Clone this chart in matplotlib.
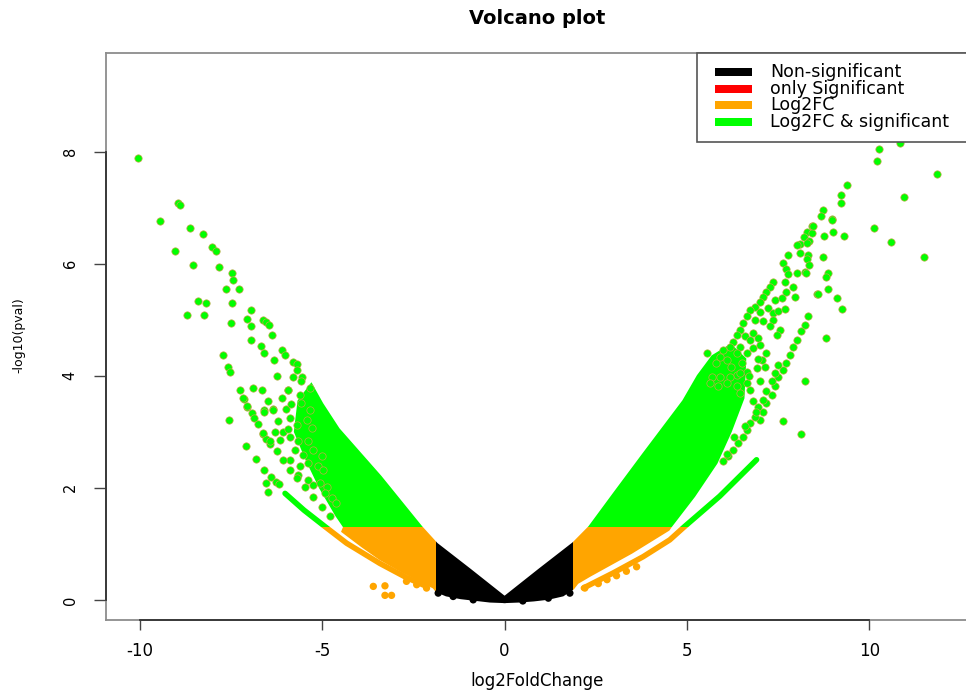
import matplotlib
matplotlib.use("Agg")
import matplotlib.pyplot as plt
import numpy as np
from matplotlib.patches import Rectangle

# ---------------------------------------------------------------------------
# Data
# ---------------------------------------------------------------------------

FC_CUT = 1.87      # |log2FC| threshold
P_CUT = 1.30       # -log10(0.05)

# dense part of the cloud, left and right arms (outline of the solid area)
left_cloud_x = [0.0, -0.95, -1.86, -2.28, -3.40, -4.55, -5.00, -5.30,
                -5.65, -5.75, -5.43, -5.06, -4.61, -4.40, -4.45, -3.90, -3.42,
                -2.80, -2.28, -1.95, -1.86, -1.60, -1.20, -0.80, -0.40, 0.0]
left_cloud_y = [0.05, 0.54, 1.00, 1.30, 2.20, 3.05, 3.50, 3.85,
                3.55, 3.00, 2.50, 2.00, 1.50, 1.30, 1.22, 0.95, 0.73,
                0.50, 0.33, 0.22, 0.15, 0.08, 0.03, 0.00, -0.03, -0.04]

right_cloud_x = [0.0, 0.95, 1.88, 2.32, 3.00, 3.80, 4.90, 5.30, 5.70, 6.20,
                 6.60, 6.55, 6.20, 5.81, 5.20, 4.55, 4.50, 3.48, 2.34, 2.00,
                 1.88, 1.60, 1.20, 0.80, 0.40, 0.0]
right_cloud_y = [0.05, 0.54, 1.01, 1.30, 1.90, 2.60, 3.55, 4.00, 4.35, 4.55,
                 4.30, 3.60, 3.00, 2.44, 1.85, 1.30, 1.25, 0.84, 0.43, 0.30,
                 0.20, 0.08, 0.02, -0.01, -0.03, -0.04]

# outermost thin strands
left_strand_x = [-6.02, -5.50, -4.93, -4.33, -3.42, -2.70, -2.14]
left_strand_y = [1.90, 1.60, 1.31, 1.01, 0.65, 0.40, 0.24]
right_strand_x = [2.16, 2.98, 3.80, 4.53, 4.94, 5.90, 6.91]
right_strand_y = [0.21, 0.48, 0.77, 1.07, 1.31, 1.85, 2.50]

# single genes outside the solid area
gene_x = [
    -10.05, -8.95, -8.89, -9.45, -8.63, -8.26, -8.03, -7.92, -9.04, -8.54,
    -7.82, -7.47, -7.44, -7.65, -7.29, -8.42, -8.20, -7.47, -8.72, -8.24,
    -6.96, -7.07, -6.96, -7.51, -6.62, -6.53, -6.45, -6.37, -6.96, -6.69,
    -6.60, -6.09, -6.02, -7.73, -6.32, -5.81, -5.70, -5.69, -7.58, -7.53,
    -6.25, -5.81, -5.55, -5.57, -7.26, -6.91, -6.64, -5.95, -7.15, -6.48,
    -7.05, -6.94, -6.87, -6.59, -6.36, -7.56, -6.77, -6.62, -6.53, -6.44,
    -7.09, -6.83, -6.59, -6.41, -6.28, -6.53, -6.48, -6.19,
    -7.17, -7.07, -6.34, -6.60, -5.93, -5.61, -5.34, -5.57, -5.34, -5.89,
    -5.70, -5.43, -5.29, -6.07, -5.89, -5.66, -5.39, -5.75, -5.52, -5.25,
    -5.02, -5.89, -5.61, -5.39, -5.11, -4.97, -5.66, -5.39, -5.25, -5.06,
    -4.88, -4.93, -4.74, -4.61,
    -6.62, -6.44, -6.25, -6.07, -5.89, -5.70, -5.48, -5.25, -5.02, -4.79,
    -6.20, -6.00, -6.15, -6.30, -5.95, -6.10, -5.85,
    -3.60, -3.28, -3.28, -3.10, -2.14, -2.41, -2.69,
    -1.41, -0.86, 1.20, 1.79, -1.82, 0.50,
    2.20, 2.57, 2.81, 3.07, 3.34, 3.62,
    10.27, 10.22, 10.84, 11.87, 9.40, 9.22, 9.22, 10.95, 8.74, 8.67,
    8.98, 8.43, 8.28, 8.42, 8.21, 8.35, 8.76, 9.01, 9.31, 10.13,
    10.61, 11.50, 8.10, 8.10, 8.32, 8.28, 8.35, 8.72, 8.25, 8.87,
    8.81, 8.87, 8.58, 9.12, 9.24, 8.81, 8.23, 7.64, 8.12,
    8.45, 8.97, 8.01, 8.28, 7.78, 7.64, 7.71, 7.78, 8.01, 8.26,
    7.37, 7.27, 7.69, 7.91, 7.73, 7.96, 7.18, 7.09, 7.41, 7.60,
    8.60, 7.00, 6.86, 6.73, 7.00, 7.23, 7.37, 7.50, 7.69, 6.64,
    6.86, 6.54, 7.09, 7.37, 7.27, 7.55, 7.46, 6.45, 6.36, 6.59,
    6.82, 6.73, 6.95, 7.00, 6.27, 6.18, 6.45, 6.36, 6.64, 6.82,
    7.18, 7.05, 5.99, 5.90, 6.09, 5.81, 6.22, 6.50, 6.64, 6.91,
    6.36, 6.18, 5.90, 5.68, 5.63, 5.86, 6.09, 6.36, 6.64, 6.73,
    6.45, 5.54,
    8.32, 8.23, 8.14, 8.01, 7.91, 7.82, 7.73, 7.64, 7.50, 7.41,
    7.32, 7.18, 7.09, 7.00,
    7.50, 7.41, 7.32, 7.18, 7.09, 6.95, 6.86, 6.73, 6.64, 6.54,
    6.41, 6.27, 6.13, 5.99,
    7.00, 6.80, 6.95, 6.70, 6.45, 7.15, 6.90, 6.60, 6.30, 6.10,
]
gene_y = [
    7.88, 7.08, 7.04, 6.77, 6.63, 6.53, 6.30, 6.22, 6.23, 5.98,
    5.94, 5.84, 5.71, 5.54, 5.54, 5.34, 5.29, 5.30, 5.09, 5.09,
    5.17, 5.01, 4.89, 4.94, 5.00, 4.95, 4.90, 4.73, 4.63, 4.53,
    4.41, 4.46, 4.37, 4.37, 4.28, 4.25, 4.21, 4.10, 4.15, 4.06,
    4.00, 3.97, 3.98, 3.90, 3.75, 3.78, 3.75, 3.75, 3.59, 3.54,
    3.44, 3.34, 3.25, 3.38, 3.40, 3.21, 3.14, 2.96, 2.87, 2.78,
    2.74, 2.51, 2.32, 2.19, 2.11, 2.08, 1.93, 2.06,
    3.60, 3.46, 3.39, 3.36, 3.75, 3.66, 3.78, 3.51, 3.39, 3.24,
    3.12, 3.21, 3.06, 3.00, 2.91, 2.83, 2.83, 2.68, 2.59, 2.68,
    2.56, 2.50, 2.38, 2.44, 2.38, 2.32, 2.23, 2.14, 2.05, 2.08,
    2.02, 1.90, 1.81, 1.73,
    2.97, 2.83, 2.65, 2.50, 2.32, 2.17, 2.02, 1.84, 1.66, 1.49,
    3.20, 3.40, 2.85, 3.00, 3.05, 3.60, 3.50,
    0.24, 0.25, 0.08, 0.08, 0.21, 0.27, 0.33,
    0.06, 0.00, 0.03, 0.12, 0.12, -0.02,
    0.21, 0.29, 0.36, 0.43, 0.51, 0.59,
    8.04, 7.84, 8.16, 7.60, 7.41, 7.23, 7.08, 7.19, 6.96, 6.85,
    6.80, 6.67, 6.57, 6.54, 6.47, 6.41, 6.50, 6.56, 6.50, 6.63,
    6.39, 6.12, 6.35, 6.19, 6.16, 6.08, 5.98, 6.12, 5.85, 5.84,
    5.77, 5.54, 5.46, 5.38, 5.19, 4.68, 3.91, 3.19, 2.96,
    6.67, 6.78, 6.33, 6.37, 6.16, 6.01, 5.90, 5.82, 5.84, 5.84,
    5.68, 5.59, 5.68, 5.59, 5.50, 5.40, 5.50, 5.41, 5.35, 5.38,
    5.46, 5.32, 5.23, 5.17, 5.14, 5.20, 5.12, 5.16, 5.19, 5.06,
    5.00, 4.94, 4.97, 5.00, 4.88, 4.82, 4.73, 4.82, 4.73, 4.70,
    4.76, 4.64, 4.67, 4.55, 4.61, 4.52, 4.52, 4.40, 4.40, 4.49,
    4.40, 4.28, 4.46, 4.34, 4.28, 4.22, 4.16, 4.22, 4.07, 4.13,
    4.01, 3.98, 3.98, 3.98, 3.87, 3.81, 3.87, 3.81, 3.87, 3.75,
    3.69, 4.40,
    5.06, 4.91, 4.79, 4.64, 4.52, 4.37, 4.22, 4.10, 3.98, 3.81,
    3.66, 3.51, 3.36, 3.21,
    4.19, 4.05, 3.90, 3.72, 3.57, 3.45, 3.27, 3.15, 3.03, 2.91,
    2.80, 2.68, 2.56, 2.47,
    3.90, 3.55, 4.30, 4.00, 4.05, 4.15, 3.35, 3.10, 2.90, 2.60,
]

x_ticks = [-10, -5, 0, 5, 10]
y_ticks = [0, 2, 4, 6, 8]

categories = ["Non-significant", "only Significant", "Log2FC", "Log2FC & significant"]
cat_colors = ["black", "red", "orange", "#00ff00"]

# ---------------------------------------------------------------------------
# Plot
# ---------------------------------------------------------------------------

W, H = 966, 691
fig = plt.figure(figsize=(W / 100, H / 100), dpi=100)
ax = fig.add_axes([106 / W, 1 - 620 / H, 869 / W, 567 / H])
ax.set_xlim(-10.93, 12.90)
ax.set_ylim(-0.36, 9.76)

big = 50
# (color, [(x0, y0, x1, y1), ...]) regions of each class
regions = [
    ("black", [(-FC_CUT, -big, FC_CUT, big)]),
    ("orange", [(-big, -big, -FC_CUT, P_CUT), (FC_CUT, -big, big, P_CUT)]),
    ("#00ff00", [(-big, P_CUT, -FC_CUT, big), (FC_CUT, P_CUT, big, big)]),
]


def clip_to(artist, box):
    x0, y0, x1, y1 = box
    rect = Rectangle((x0, y0), x1 - x0, y1 - y0, transform=ax.transData)
    artist.set_clip_path(rect)


for color, boxes in regions:
    for box in boxes:
        for xs, ys in [(left_cloud_x, left_cloud_y), (right_cloud_x, right_cloud_y)]:
            poly = ax.fill(xs, ys, color=color, lw=1.5, zorder=2)[0]
            clip_to(poly, box)
        for xs, ys in [(left_strand_x, left_strand_y), (right_strand_x, right_strand_y)]:
            line = ax.plot(xs, ys, color=color, lw=4, solid_capstyle="round", zorder=2)[0]
            clip_to(line, box)

gx = np.array(gene_x)
gy = np.array(gene_y)
point_colors = np.select(
    [np.abs(gx) < FC_CUT, gy < P_CUT],
    ["black", "orange"],
    default="#00ff00",
)
is_green = point_colors == "#00ff00"
ax.scatter(gx[~is_green], gy[~is_green], s=28, c=point_colors[~is_green],
           linewidths=0, zorder=3)
ax.scatter(gx[is_green], gy[is_green], s=28, c="#00ff00",
           edgecolors="#c0a84a", linewidths=0.5, zorder=3)

# R-like box and axes
for sp in ax.spines.values():
    sp.set_color("#8c8c8c")
    sp.set_linewidth(1.3)
ax.plot([x_ticks[0], x_ticks[-1]], [-0.36, -0.36], color="#333333", lw=1.3,
        clip_on=False, zorder=5)
ax.plot([-10.93, -10.93], [y_ticks[0], y_ticks[-1]], color="#333333", lw=1.3,
        clip_on=False, zorder=5)

ax.set_xticks(x_ticks)
ax.set_xticklabels([str(t) for t in x_ticks], fontsize=12)
ax.set_yticks(y_ticks)
ax.set_yticklabels([str(t) for t in y_ticks], fontsize=10.5, rotation=90, va="center")
ax.tick_params(axis="x", length=7, width=1, color="#444444", pad=9)
ax.tick_params(axis="y", length=8.5, width=1, color="#444444", pad=12)

fig.text(537 / W, 1 - 18 / H, "Volcano plot", ha="center", va="center",
         fontsize=14, fontweight="bold")
fig.text(537 / W, 1 - 681 / H, "log2FoldChange", ha="center", va="center", fontsize=12)
fig.text(19 / W, 1 - 335 / H, "-log10(pval)", ha="center", va="center",
         fontsize=9, rotation=90)

# legend (R style, top right of the plot box)
leg_box = Rectangle((697 / W, 1 - 141.7 / H), (975 - 697) / W, (141.7 - 53) / H,
                    transform=fig.transFigure, facecolor="white", edgecolor="#555555",
                    lw=1.2, zorder=10)
fig.add_artist(leg_box)
row_y = [71.7, 88.7, 105.3, 122.0]
for label, color, yy in zip(categories, cat_colors, row_y):
    key = Rectangle((715 / W, 1 - (yy + 4) / H), 37 / W, 8 / H,
                    transform=fig.transFigure, facecolor=color, lw=0, zorder=11)
    fig.add_artist(key)
    fig.text(770 / W, 1 - yy / H, label, ha="left", va="center", fontsize=12.5, zorder=12)

fig.savefig("out.png", dpi=100)
